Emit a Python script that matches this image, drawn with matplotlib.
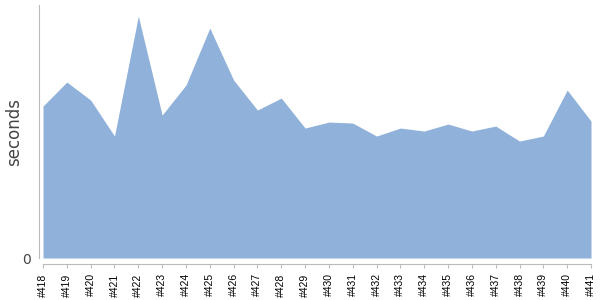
import matplotlib
matplotlib.use('Agg')
import matplotlib.pyplot as plt

builds = ['#418', '#419', '#420', '#421', '#422', '#423', '#424', '#425',
          '#426', '#427', '#428', '#429', '#430', '#431', '#432', '#433',
          '#434', '#435', '#436', '#437', '#438', '#439', '#440', '#441']
seconds = [152, 176, 158, 122, 242, 143, 173, 230,
           178, 148, 160, 130, 136, 135, 122, 130,
           127, 134, 127, 132, 117, 122, 168, 137]

fig = plt.figure(figsize=(6, 3), dpi=100)
ax = fig.add_axes([0.0717, 0.14, 0.9133, 0.843])

x = list(range(len(builds)))
ax.fill_between(x, 0, seconds, color='#8fb1da', linewidth=0)

ax.set_xlim(0, len(builds) - 1)
ax.set_ylim(0, 253)
ax.set_xticks(x)
ax.set_xticklabels(builds)
ax.set_yticks([0])
ax.set_yticklabels(['0'])
ax.set_ylabel('seconds', fontsize=12, color='#444444')
ax.yaxis.set_label_coords(-0.037, 0.50)

for side in ['top', 'right']:
    ax.spines[side].set_visible(False)
ax.spines['left'].set_position(('outward', 3))
ax.spines['bottom'].set_position(('outward', 4))
ax.spines['left'].set_color('#bbbbbb')
ax.spines['bottom'].set_color('#bbbbbb')
ax.tick_params(axis='x', length=3, color='#bbbbbb', pad=4,
               labelrotation=90, labelsize=7.5, labelcolor='black')
ax.tick_params(axis='y', length=0, pad=6, labelsize=10, labelcolor='#444444')
for lbl in ax.get_xticklabels():
    lbl.set_family('Liberation Sans')

fig.savefig('out.png')
